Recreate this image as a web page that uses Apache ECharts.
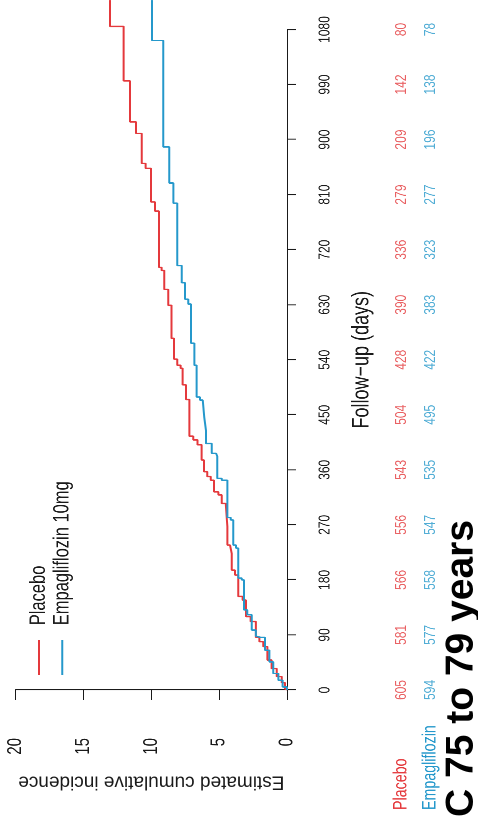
<!DOCTYPE html>
<html><head><meta charset="utf-8">
<script src="https://cdn.jsdelivr.net/npm/echarts@6/dist/echarts.min.js"></script>
<style>
html,body{margin:0;padding:0;background:#fff;overflow:hidden;width:478px;height:822px}
.turn{position:absolute;left:0;top:0;height:478px;transform-origin:0 0}
#c2{pointer-events:none}
</style>
</head><body><div id="c" class="turn"></div><div id="c2" class="turn"></div>
<script>
// ---- data ----
const dayTicks = [0, 90, 180, 270, 360, 450, 540, 630, 720, 810, 900, 990, 1080];
const incidenceTicks = [0, 5, 10, 15, 20];
const groups = ['Placebo', 'Empagliflozin'];
const seriesNames = ['Placebo', 'Empagliflozin 10mg'];
// [day, cumulative incidence %]
const placeboCurve = [[0,0],[2,0.15],[12,0.39],[22,0.76],[35,1.13],[49,1.45],[71,1.75],[79,2.04],[86,2.29],[112,2.68],[120,3.02],[147,3.27],[153,3.59],[188,3.83],[196,4.07],[223,4.20],[237,4.40],[267,4.52],[305,4.81],[319,5.06],[324,5.38],[343,5.62],[349,5.88],[357,6.12],[376,6.29],[401,6.60],[409,6.91],[415,7.20],[475,7.45],[499,7.69],[526,7.84],[531,8.09],[541,8.33],[575,8.51],[629,8.75],[655,9.05],[686,9.24],[691,9.44],[783,9.73],[798,10.03],[853,10.42],[861,10.71],[910,11.13],[929,11.57],[996,12.04],[1085,13.05],[1128,13.05]];
const empaCurve = [[0,0],[5,0.32],[16,0.64],[27,1.01],[46,1.30],[65,1.62],[86,1.94],[88,2.29],[98,2.60],[123,2.93],[131,3.17],[180,3.34],[183,3.59],[232,3.76],[237,3.96],[278,4.15],[282,4.40],[343,4.81],[346,5.14],[382,5.23],[387,5.55],[403,5.97],[424,6.10],[446,6.21],[474,6.41],[479,6.66],[531,6.83],[567,7.08],[631,7.28],[639,7.52],[666,7.76],[694,8.09],[796,8.38],[829,8.68],[888,9.12],[1062,9.95],[1128,9.95]];
const placeboAtRisk = [605, 581, 566, 556, 543, 504, 428, 390, 336, 279, 209, 142, 80];
const empaAtRisk = [594, 577, 558, 547, 535, 495, 422, 383, 323, 277, 196, 138, 78];

// ---- layout: the chart is drawn in its landscape frame, then turned a quarter ----
const FONT = "'Liberation Sans',Arial,sans-serif";
const RED = '#E4393C', BLUE = '#2598CB', INK = '#1a1a1a';
const plotTop = 15.7, plotH = 271.3;

function setup(id, S) {
  const el = document.getElementById(id);
  el.style.width = (822 / S) + 'px';
  el.style.transform = 'matrix(0,' + (-S) + ',1,0,0,822)';
  return echarts.init(el, null, {renderer: 'canvas', devicePixelRatio: 2});
}

// main chart (text along the days direction is narrowed)
const S = 0.75;
const W = 822 / S;
const U = v => v / S;
const x0 = U(132);
const pxPerDay = U(660.5) / 1080;
const chart = setup('c', S);

chart.setOption({
  animation: false,
  backgroundColor: '#fff',
  textStyle: {fontFamily: FONT},
  legend: {
    orient: 'vertical', left: U(147), top: 28, padding: 0, itemGap: 1.3,
    itemWidth: U(35), itemHeight: 2, icon: 'rect',
    data: seriesNames,
    textStyle: {fontFamily: FONT, fontSize: 22, color: INK, lineHeight: 22, padding: [0, 0, 0, U(11)]}
  },
  grid: [
    {left: x0, top: plotTop, width: W - x0, height: plotH},
    {left: x0, top: plotTop, width: 1080 * pxPerDay, height: plotH},
    {left: x0, top: 387, width: 1080 * pxPerDay, height: 58}
  ],
  xAxis: [
    {gridIndex: 0, type: 'value', min: 0, max: (W - x0) / pxPerDay, show: false},
    {gridIndex: 1, type: 'value', min: 0, max: 1080, interval: 90, offset: 10,
      axisLine: {show: true, lineStyle: {color: INK, width: 1}},
      axisTick: {show: true, length: 9, lineStyle: {color: INK, width: 1.3}},
      axisLabel: {fontSize: 16, color: INK, margin: 20, fontFamily: FONT, formatter: v => String(v)},
      splitLine: {show: false},
      name: 'Follow\u2212up (days)', nameLocation: 'middle', nameGap: 53,
      nameTextStyle: {fontSize: 24, color: INK, fontFamily: FONT}},
    {gridIndex: 2, type: 'value', min: 0, max: 1080, show: false}
  ],
  yAxis: [
    {gridIndex: 0, type: 'value', min: 0, max: 20, show: false},
    {gridIndex: 1, type: 'value', min: 0, max: 20, interval: 5, offset: U(30),
      axisLine: {show: true, lineStyle: {color: INK, width: 1.3}},
      axisTick: {show: true, length: U(10), lineStyle: {color: INK, width: 1}},
      axisLabel: {fontSize: 20, color: INK, margin: U(18), fontFamily: FONT},
      splitLine: {show: false}},
    {gridIndex: 2, type: 'category', data: groups, inverse: true,
      axisLine: {show: false}, axisTick: {show: false}, splitLine: {show: false},
      axisLabel: {align: 'left', margin: x0 - U(12),
        formatter: v => v === 'Placebo' ? '{p|' + v + '}' : '{e|' + v + '}',
        rich: {p: {color: RED, fontSize: 19, fontFamily: FONT}, e: {color: BLUE, fontSize: 19, fontFamily: FONT}}}}
  ],
  series: [
    {name: seriesNames[0], type: 'line', step: 'end', xAxisIndex: 0, yAxisIndex: 0, data: placeboCurve,
      symbol: 'none', silent: true, lineStyle: {color: RED, width: 2}, itemStyle: {color: RED}},
    {name: seriesNames[1], type: 'line', step: 'end', xAxisIndex: 0, yAxisIndex: 0, data: empaCurve,
      symbol: 'none', silent: true, lineStyle: {color: BLUE, width: 2}, itemStyle: {color: BLUE}},
    {type: 'scatter', xAxisIndex: 2, yAxisIndex: 2, symbolSize: 1, silent: true,
      itemStyle: {color: 'rgba(0,0,0,0)'},
      data: dayTicks.map((d, i) => [d, 0, placeboAtRisk[i]]),
      label: {show: true, position: 'inside', formatter: p => p.value[2], color: RED, fontSize: 16, fontFamily: FONT}},
    {type: 'scatter', xAxisIndex: 2, yAxisIndex: 2, symbolSize: 1, silent: true,
      itemStyle: {color: 'rgba(0,0,0,0)'},
      data: dayTicks.map((d, i) => [d, 1, empaAtRisk[i]]),
      label: {show: true, position: 'inside', formatter: p => p.value[2], color: BLUE, fontSize: 16, fontFamily: FONT}}
  ]
});

// overlay (text with normal proportions): panel title and incidence axis title
const chart2 = setup('c2', 1);
chart2.setOption({
  animation: false,
  textStyle: {fontFamily: FONT},
  title: {
    text: 'C 75 to 79 years', left: 5, top: 442, padding: 0,
    textStyle: {fontFamily: FONT, fontSize: 39, fontWeight: 'bold', color: '#000'}
  },
  grid: {left: 132, top: plotTop, width: 660.5, height: plotH},
  xAxis: {type: 'value', min: 0, max: 1080, show: false},
  yAxis: {type: 'value', min: 0, max: 20, offset: 30,
    axisLine: {show: false}, axisTick: {show: false}, axisLabel: {show: false}, splitLine: {show: false},
    name: 'Estimated cumulative incidence', nameLocation: 'middle', nameGap: 52, nameRotate: 90,
    nameTextStyle: {fontSize: 19, color: INK, fontFamily: FONT}},
  series: []
});
</script></body></html>
